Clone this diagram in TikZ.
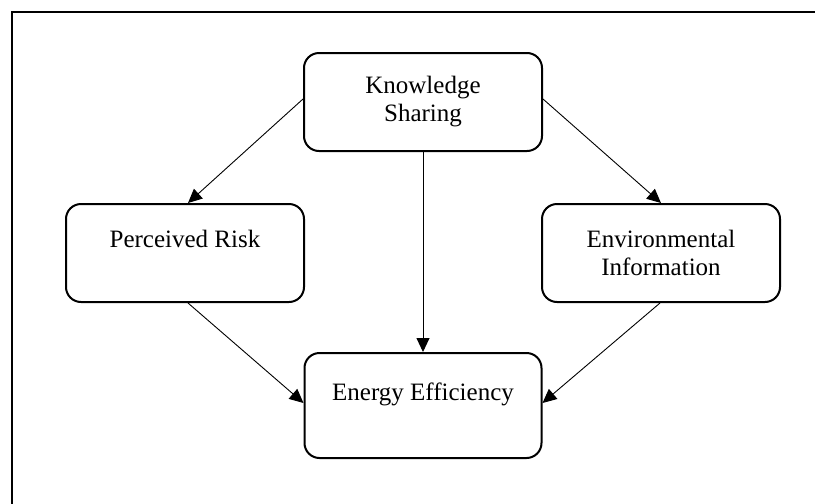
\documentclass[tikz,border=0pt]{standalone}
\usepackage{fontspec}
\setmainfont{Liberation Serif}
\usetikzlibrary{arrows.meta}
\begin{document}
\begin{tikzpicture}[x=1pt,y=-1pt,
  box/.style={draw, line width=2pt, rounded corners=15pt, minimum width=238pt, minimum height=98pt,
    align=center, inner sep=0pt, font=\fontsize{25}{28}\selectfont},
  conn/.style={line width=0.9pt, -{Triangle[length=14pt,width=13pt]}}]
\useasboundingbox (0,0) rectangle (815,504);
\draw[line width=2pt] (12,504) -- (12,12) -- (815,12);
\node[box] (ks) at (423,102) {Knowledge\\Sharing};
\node[box] (pr) at (185,253) {Perceived Risk\\\phantom{X}};
\node[box] (ei) at (661,253) {Environmental\\Information};
\node[box, minimum width=237pt, minimum height=105pt] (ee) at (423,405.5) {Energy Efficiency\\\phantom{X}};
\draw[conn] ([yshift=3pt]ks.west) -- ([xshift=3pt]pr.north);
\draw[conn] ([yshift=3pt]ks.east) -- (ei.north);
\draw[conn] (ks.south) -- (ee.north);
\draw[conn] ([xshift=3pt]pr.south) -- ([yshift=2.5pt]ee.west);
\draw[conn] ([xshift=-1pt]ei.south) -- ([yshift=2.5pt]ee.east);
\end{tikzpicture}
\end{document}
